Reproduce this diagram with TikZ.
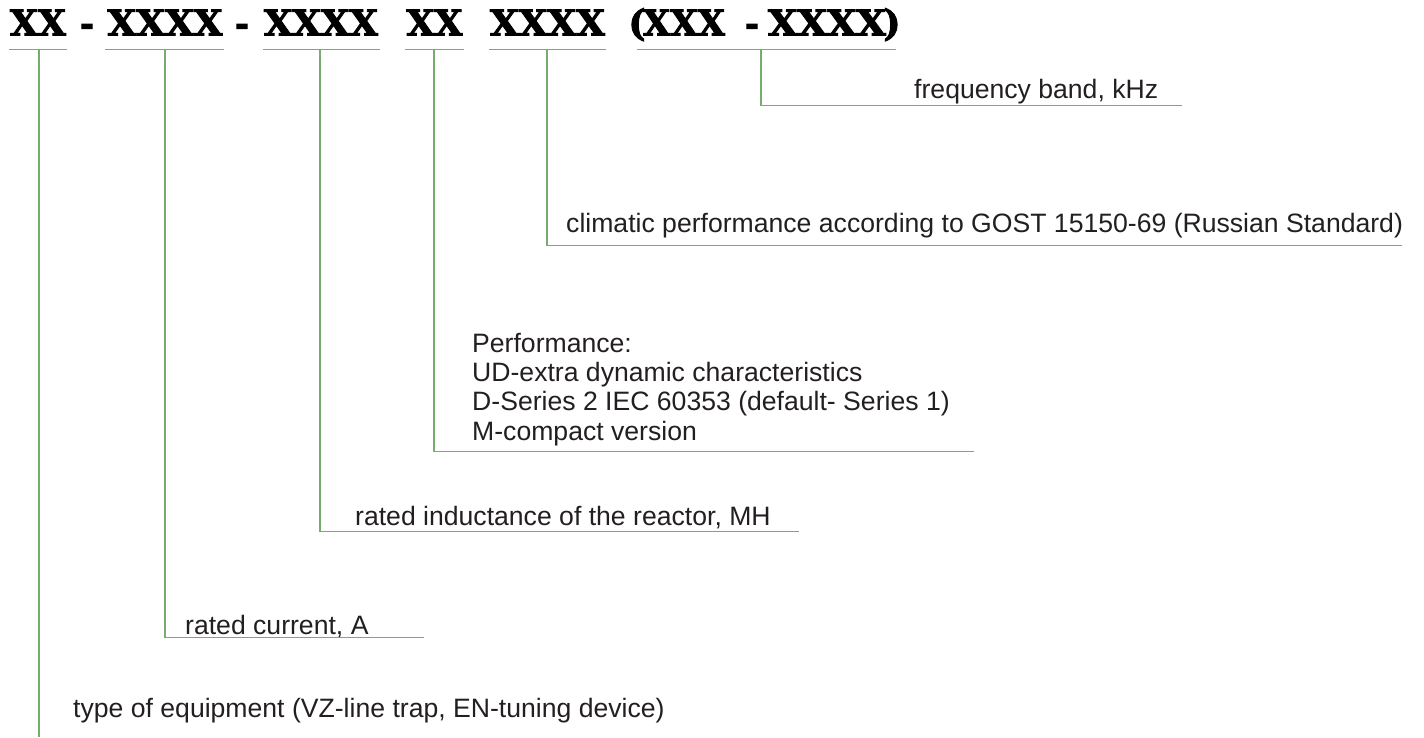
\documentclass[tikz,border=0pt]{standalone}
\usepackage{fontspec}
\setmainfont{Liberation Sans}
\newfontfamily\codefont[BoldFeatures={FakeBold=2.5}]{DejaVu Serif}
\definecolor{leadgreen}{RGB}{118,172,110}
\definecolor{labelgray}{RGB}{35,31,32}
\newcommand\labelfont{\fontsize{26.6}{29}\selectfont}
\newcommand\codesize{\codefont\bfseries\fontsize{34}{34}\selectfont}
\newcommand\cx[2]{\resizebox{#1pt}{26pt}{\codesize #2}}
\tikzset{
  lead/.style={draw=leadgreen, line width=1.1pt},
  lbl/.style={anchor=base west, inner sep=0pt, text=labelgray, font=\labelfont},
  code/.style={anchor=base, inner sep=0pt, text=black},
}
\begin{document}
\begin{tikzpicture}[x=1pt,y=-1pt]
\useasboundingbox (0,0) rectangle (1424,737);
% code line
\node[code] (c1) at (38,35.5) {\cx{56}{XX}};
\node[code] (d1) at (87,35.5) {\codesize -};
\node[code] (c2) at (165,35.5) {\cx{115}{XXXX}};
\node[code] (d2) at (242,35.5) {\codesize -};
\node[code] (c3) at (321,35.5) {\cx{114}{XXXX}};
\node[code] (c4) at (434.5,35.5) {\cx{56}{XX}};
\node[code] (c5) at (547.5,35.5) {\cx{115}{XXXX}};
\node[code] (po) at (637,35.5) {\codefont\bfseries\fontsize{36}{36}\selectfont (};
\node[code] (c6) at (684,35.5) {\cx{82}{XXX}};
\node[code] (d3) at (752,35.5) {\codesize -};
\node[code] (c7) at (827,35.5) {\cx{118}{XXXX}};
\node[code] (pc) at (892,35.5) {\codefont\bfseries\fontsize{36}{36}\selectfont )};
% underline coordinates
\coordinate (u1w) at (9,49.3);   \coordinate (u1e) at (67,49.3);  \coordinate (u1m) at (39,49.3);
\coordinate (u2w) at (105,49.3); \coordinate (u2e) at (224,49.3); \coordinate (u2m) at (165,49.3);
\coordinate (u3w) at (263,49.3); \coordinate (u3e) at (380,49.3); \coordinate (u3m) at (320,49.3);
\coordinate (u4w) at (405,49.3); \coordinate (u4e) at (464,49.3); \coordinate (u4m) at (434,49.3);
\coordinate (u5w) at (489,49.3); \coordinate (u5e) at (606,49.3); \coordinate (u5m) at (547,49.3);
\coordinate (u6w) at (637,49.3); \coordinate (u6e) at (896,49.3); \coordinate (u6m) at (761,49.3);
\foreach \i in {1,...,6} {\draw[lead] (u\i w) -- (u\i e);}
% labels
\node[lbl] (freq) at (914,98) {frequency band, kHz};
\node[lbl] (clim) at (566,232) {climatic performance according to GOST 15150-69 (Russian Standard)};
\node[lbl] (perf1) at (472,352) {Performance:};
\node[lbl] (perf2) at (472,381.3) {UD-extra dynamic characteristics};
\node[lbl] (perf3) at (472,410.6) {D-Series 2 IEC 60353 (default- Series 1)};
\node[lbl] (perf4) at (472,440) {M-compact version};
\node[lbl] (induct) at (355,525) {rated inductance of the reactor, MH};
\node[lbl] (curr) at (185,634) {rated current, A};
\node[lbl] (type) at (73,717) {type of equipment (VZ-line trap, EN-tuning device)};
% leader corners and ends
\coordinate (f1) at (761,105.7);  \coordinate (f2) at (1182,105.7);
\coordinate (k1) at (547,245.7);  \coordinate (k2) at (1402,245.7);
\coordinate (p1) at (434,451.7);  \coordinate (p2) at (974,451.7);
\coordinate (i1) at (320,531.5);  \coordinate (i2) at (799,531.5);
\coordinate (r1) at (165,637.7);  \coordinate (r2) at (424,637.7);
\coordinate (t1) at (39,737);
\draw[lead] (u6m) -- (f1) -- (f2);
\draw[lead] (u5m) -- (k1) -- (k2);
\draw[lead] (u4m) -- (p1) -- (p2);
\draw[lead] (u3m) -- (i1) -- (i2);
\draw[lead] (u2m) -- (r1) -- (r2);
\draw[lead] (u1m) -- (t1);
\end{tikzpicture}
\end{document}
